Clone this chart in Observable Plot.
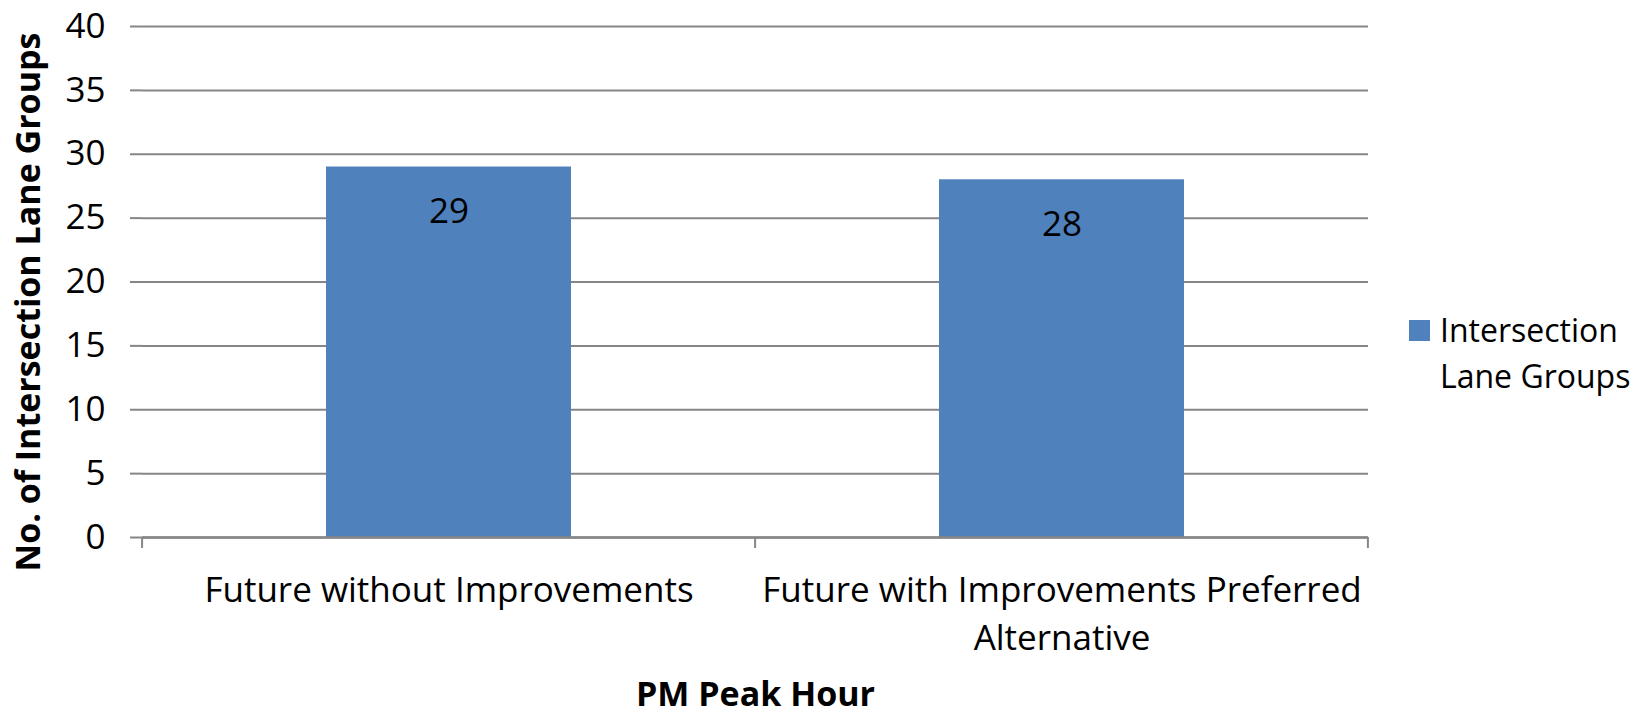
<!DOCTYPE html>
<html>
<head>
<meta charset="utf-8">
<script src="https://cdn.jsdelivr.net/npm/d3@7"></script>
<script src="https://cdn.jsdelivr.net/npm/@observablehq/plot@0.6"></script>
<style>
  body { margin: 0; background: #fff; }
  #wrap { position: relative; width: 1644px; height: 717px; font-family: "Open Sans", sans-serif; }
  #legend { position: absolute; left: 1409px; top: 307px; font-size: 32px; line-height: 46px; color: #000; }
  #legend .sw { position: absolute; left: 0; top: 13px; width: 21px; height: 21px; background: #4F81BD; }
  #legend .tx { position: absolute; left: 31px; top: 0; white-space: nowrap; }
</style>
</head>
<body>
<div id="wrap">
  <div id="chart"></div>
  <div id="legend"><div class="sw"></div><div class="tx">Intersection<br>Lane Groups</div></div>
</div>
<script>
const categories = ["Future without Improvements", "Future with Improvements Preferred Alternative"];
const tickLabels = ["Future without Improvements", "Future with Improvements Preferred\nAlternative"];
const values = [29, 28];
const seriesName = "Intersection Lane Groups";
const yTicks = [0, 5, 10, 15, 20, 25, 30, 35, 40];
const yTitle = "No. of Intersection Lane Groups";
const xTitle = "PM Peak Hour";

const data = categories.map((c, i) => ({category: c, value: values[i], label: tickLabels[i]}));
const gray = "#868686";
const font = "'Open Sans', sans-serif";

const chart = Plot.plot({
  width: 1644,
  height: 717,
  marginLeft: 142,
  marginRight: 276,
  marginTop: 26,
  marginBottom: 180,
  style: {fontFamily: font, fontSize: "35px", color: "#000", background: "#fff"},
  x: {domain: categories, paddingInner: 0.6, paddingOuter: 0.3},
  y: {domain: [0, 40]},
  marks: [
    Plot.gridY(yTicks, {stroke: gray, strokeOpacity: 1, strokeWidth: 2}),
    Plot.barY(data, {x: "category", y: "value", fill: "#4F81BD"}),
    Plot.ruleY([0], {stroke: gray, strokeWidth: 2.5}),
    Plot.ruleX([0], {frameAnchor: "left", stroke: gray, strokeWidth: 2.5}),
    Plot.axisY(yTicks, {
      tickSize: 12, tickPadding: 25, stroke: gray, strokeWidth: 2, fontSize: 35, label: null
    }),
    Plot.axisX({
      tickSize: 0, tickPadding: 31, fontSize: 35, lineHeight: 1.36,
      tickFormat: (d) => tickLabels[categories.indexOf(d)], label: null
    }),
    Plot.text([yTitle], {
      frameAnchor: "left", rotate: -90, textAnchor: "middle", lineAnchor: "top",
      dx: -127, dy: 20, fontSize: 34, fontWeight: "bold", fill: "#000"
    }),
    Plot.text([xTitle], {
      frameAnchor: "bottom", textAnchor: "middle", lineAnchor: "middle",
      dy: 158, fontSize: 34, fontWeight: "bold", fill: "#000"
    }),
    Plot.text(data, {x: "category", y: "value", text: (d) => String(d.value), dy: 45, fontSize: 35, fill: "#000", lineAnchor: "middle"})
  ]
});

// boundary tick marks between categories, placed from the band scale
const xs = chart.scale("x");
const ys = chart.scale("y");
const y0 = ys.apply(0);
const bounds = categories.map((c) => xs.apply(c) - xs.step * 0.6 / 2);
bounds.push(xs.apply(categories[categories.length - 1]) + xs.bandwidth + xs.step * 0.6 / 2);
d3.select(chart).append("g")
  .selectAll("line").data(bounds).join("line")
  .attr("x1", (d) => d).attr("x2", (d) => d)
  .attr("y1", y0).attr("y2", y0 + 11)
  .attr("stroke", gray).attr("stroke-width", 2);

document.getElementById("chart").appendChild(chart);
</script>
</body>
</html>
